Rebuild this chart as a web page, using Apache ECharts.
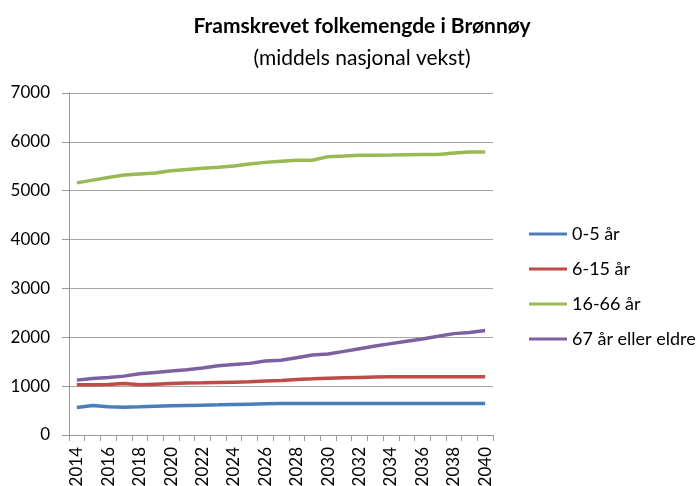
<!DOCTYPE html>
<html>
<head>
<meta charset="utf-8">
<script src="https://cdn.jsdelivr.net/npm/echarts@6/dist/echarts.min.js"></script>
<style>
	html, body { margin: 0; padding: 0; background: #fff; }
	#chart { width: 696px; height: 486px; }
</style>
</head>
<body>
<div id="chart"></div>
<script>
var myChart = echarts.init(document.getElementById('chart'));

// år 2014 - 2040
let years = [];
for (let y = 2014; y <= 2040; y++) years.push(String(y));

let seriesNames = ["0-5 år", "6-15 år", "16-66 år", "67 år eller eldre"];
let color = ["#4a7ebb", "#be4b48", "#98b954", "#7d60a0"];

let age0to5 = [564, 604, 577, 570, 577, 590, 597, 604, 611, 617, 624, 631, 638, 644,
	644, 644, 644, 644, 644, 644, 644, 644, 644, 644, 644, 644, 644];
let age6to15 = [1027, 1027, 1034, 1055, 1027, 1041, 1055, 1062, 1068, 1075, 1082, 1089, 1103, 1116,
	1137, 1150, 1164, 1171, 1178, 1185, 1192, 1192, 1192, 1192, 1192, 1192, 1192];
let age16to66 = [5160, 5217, 5270, 5322, 5342, 5362, 5408, 5434, 5460, 5480, 5507, 5546, 5580, 5605,
	5625, 5625, 5697, 5710, 5724, 5724, 5730, 5737, 5743, 5743, 5770, 5790, 5790];
let age67plus = [1123, 1158, 1178, 1205, 1253, 1281, 1308, 1336, 1370, 1418, 1445, 1466, 1514, 1528,
	1582, 1637, 1658, 1712, 1767, 1822, 1870, 1918, 1966, 2020, 2075, 2096, 2137];

let allData = [age0to5, age6to15, age16to66, age67plus];

option = {
	animation: false,
	color: color,
	textStyle: {
		fontFamily: 'Lato'
	},
	title: {
		text: 'Framskrevet folkemengde i Brønnøy',
		subtext: '(middels nasjonal vekst)',
		left: 357,
		textAlign: 'center',
		top: 11,
		itemGap: 11,
		textStyle: {
			fontFamily: 'Lato',
			fontSize: 21,
			fontWeight: 'bold',
			color: '#000'
		},
		subtextStyle: {
			fontFamily: 'Lato',
			fontSize: 21,
			color: '#000'
		}
	},
	legend: {
		orient: 'vertical',
		left: 524,
		top: 220,
		icon: 'rect',
		itemWidth: 38,
		itemHeight: 3,
		itemGap: 17,
		textStyle: {
			fontFamily: 'Lato',
			fontSize: 18,
			lineHeight: 18,
			color: '#000'
		},
		data: seriesNames
	},
	grid: {
		left: 69,
		right: 203,
		top: 93,
		bottom: 51,
		containLabel: false,
		outerBoundsMode: 'none'
	},
	xAxis: {
		type: 'category',
		boundaryGap: true,
		data: years,
		axisLine: {
			lineStyle: {
				color: '#9a9a9a'
			}
		},
		axisTick: {
			show: true,
			interval: 0,
			length: 6,
			lineStyle: {
				color: '#9a9a9a'
			}
		},
		axisLabel: {
			interval: 1,
			rotate: 90,
			fontFamily: 'Lato',
			fontSize: 17,
			color: '#000',
			margin: 12
		}
	},
	yAxis: {
		type: 'value',
		min: 0,
		max: 7000,
		interval: 1000,
		axisLine: {
			show: true,
			lineStyle: {
				color: '#9a9a9a'
			}
		},
		axisTick: {
			show: true,
			length: 7,
			lineStyle: {
				color: '#9a9a9a'
			}
		},
		axisLabel: {
			fontFamily: 'Lato',
			fontSize: 17,
			color: '#000',
			margin: 19,
			formatter: v => String(v)
		},
		splitLine: {
			lineStyle: {
				color: '#a6a6a6'
			}
		}
	},
	series: seriesNames.map((name, i) => ({
		name: name,
		type: 'line',
		symbol: 'none',
		lineStyle: {
			width: 3.5,
			color: color[i]
		},
		itemStyle: {
			color: color[i]
		},
		data: allData[i]
	}))
};
myChart.setOption(option);
</script>
</body>
</html>
